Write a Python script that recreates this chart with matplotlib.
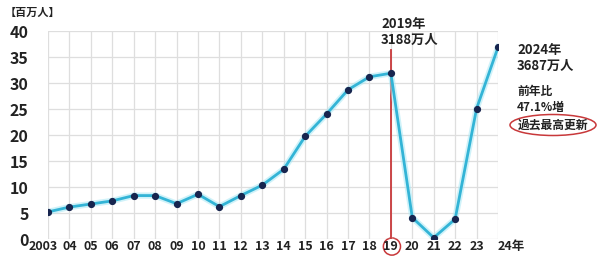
import matplotlib.pyplot as plt
import matplotlib.transforms as mtransforms
from matplotlib.patches import Ellipse

plt.rcParams['font.family'] = ['Noto Sans CJK JP', 'DejaVu Sans']

# visitors to Japan, millions
years = list(range(2003, 2025))
visitors = [5.21, 6.14, 6.73, 7.33, 8.35, 8.35, 6.79, 8.61, 6.22, 8.36, 10.36,
            13.41, 19.74, 24.04, 28.69, 31.19, 31.88, 4.12, 0.25, 3.83, 25.07, 36.87]
xlabels = ['2003', '04', '05', '06', '07', '08', '09', '10', '11', '12', '13',
           '14', '15', '16', '17', '18', '19', '20', '21', '22', '23', '24年']
yticks = [0, 5, 10, 15, 20, 25, 30, 35, 40]

W, H = 600, 256
fig = plt.figure(figsize=(6, 2.56), dpi=100)
ax = fig.add_axes([48 / W, 1 - 239 / H, 450 / W, 208 / H])

dark = '#222222'
red = '#c8383a'

ax.set_xlim(2003, 2024)
ax.set_ylim(0, 40)
ax.set_xticks(years)
ax.set_xticklabels(xlabels)
ax.set_yticks(yticks)
ax.grid(True, color='#dedede', lw=0.9)
for s in ax.spines.values():
    s.set_visible(False)
ax.tick_params(length=0, colors=dark)
ax.tick_params(axis='y', labelsize=11.5, pad=14)
ax.tick_params(axis='x', labelsize=9, pad=0.5)
for t in ax.get_yticklabels() + ax.get_xticklabels():
    t.set_fontweight('bold')
first = ax.get_xticklabels()[0]
first.set_transform(first.get_transform()
                    + mtransforms.ScaledTranslation(-0.05, 0, fig.dpi_scale_trans))
last = ax.get_xticklabels()[-1]
last.set_ha('left')

# red marker line at 2019
ax.plot([2019, 2019], [0, 36.3], color=red, lw=1.3, zorder=2)

# line with glow
ax.plot(years, visitors, color='#a8e8f5', lw=4.5, alpha=0.55, zorder=3,
        solid_joinstyle='round')
ax.plot(years, visitors, color='#33b4d6', lw=2, zorder=4)
ax.plot(years, visitors, 'o', color='#17254f', ms=4.2, zorder=5)

# 19 circle
ax.add_patch(Ellipse((2019.05, -1.45), 0.8, 3.3, fill=False, ec=red, lw=1.1,
                     clip_on=False))

fig.text(5 / W, 1 - 12 / H, '【百万人】', fontsize=8, fontweight='bold',
         color=dark, va='center')
fig.text(381 / W, 1 - 32 / H, '2019年\n3188万人', fontsize=9.5, fontweight='bold',
         color=dark, va='center', linespacing=1.1)
fig.text(517 / W, 1 - 58 / H, '2024年\n3687万人', fontsize=9.5, fontweight='bold',
         color=dark, va='center', linespacing=1.2)
fig.text(517 / W, 1 - 99 / H, '前年比\n47.1%増', fontsize=8.5, fontweight='bold',
         color=dark, va='center', linespacing=1.3)
fig.text(553 / W, 1 - 125 / H, '過去最高更新', fontsize=8.5, fontweight='bold',
         color=dark, va='center', ha='center')
fig.add_artist(Ellipse((553 / W, 1 - 125 / H), 86 / W, 21 / H,
                       transform=fig.transFigure, fill=False, ec=red, lw=1.1))

fig.savefig('out.png', dpi=100)
